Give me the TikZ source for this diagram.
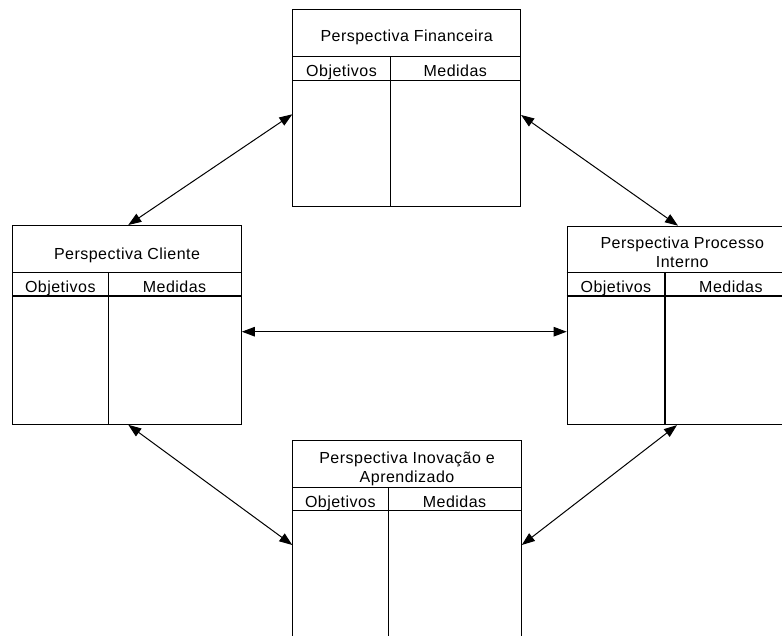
\documentclass[tikz,border=0pt]{standalone}
\usepackage{fontspec}
\setmainfont{Liberation Sans}[LetterSpace=3]
\usetikzlibrary{arrows.meta,calc}

\tikzset{
  panel/.style={draw=black, line width=1.1pt, anchor=north west, inner sep=0pt},
  rule/.style={draw=black, line width=1.1pt},
  label/.style={font=\fontsize{16}{19.4}\selectfont, inner sep=0pt, anchor=base, align=center},
  link/.style={draw=black, line width=1pt, {Triangle[length=13pt,width=9.5pt]}-{Triangle[length=13pt,width=9.5pt]}}
}

\begin{document}
\begin{tikzpicture}[x=1pt,y=-1pt]
\useasboundingbox (0,0) rectangle (782,635);
\clip (0,0) rectangle (782,635);

% Perspectiva Financeira
\node[panel, minimum width=227.7pt, minimum height=196.7pt] (fin) at (292.3,9.3) {};
\draw[rule] ($(fin.north west)+(0,47.4)$) -- ($(fin.north east)+(0,47.4)$);
\draw[rule] ($(fin.north west)+(0,71)$) -- ($(fin.north east)+(0,71)$);
\draw[rule] ($(fin.north west)+(98.4,47.4)$) -- ($(fin.south west)+(98.4,0)$);
\node[label] (finT) at ($(fin.north)+(0,32.4)$) {Perspectiva Financeira};
\node[label] (finO) at ($(fin.north west)+(49.2,67.4)$) {Objetivos};
\node[label] (finM) at ($(fin.north west)+(163,67.4)$) {Medidas};

% Perspectiva Cliente
\node[panel, minimum width=228.4pt, minimum height=198.7pt] (cli) at (12.3,225) {};
\draw[rule] ($(cli.north west)+(0,47.3)$) -- ($(cli.north east)+(0,47.3)$);
\draw[rule] ($(cli.north west)+(0,71)$) -- ($(cli.north east)+(0,71)$);
\draw[rule] ($(cli.north west)+(96,47.3)$) -- ($(cli.south west)+(96,0)$);
\node[label] (cliT) at ($(cli.north)+(0,34)$) {Perspectiva Cliente};
\node[label] (cliO) at ($(cli.north west)+(48,67.3)$) {Objetivos};
\node[label] (cliM) at ($(cli.north west)+(162.2,67.3)$) {Medidas};

% Perspectiva Processo Interno (runs past the right edge)
\node[panel, minimum width=230pt, minimum height=198.3pt] (pro) at (566.7,225.7) {};
\draw[rule] ($(pro.north west)+(0,47)$) -- ($(pro.north east)+(0,47)$);
\draw[rule] ($(pro.north west)+(0,70.3)$) -- ($(pro.north east)+(0,70.3)$);
\draw[rule] ($(pro.north west)+(98.3,47)$) -- ($(pro.south west)+(98.3,0)$);
\node[label] (proT) at ($(pro.north)+(0,42)$) {Perspectiva Processo\\Interno};
\node[label] (proO) at ($(pro.north west)+(49.2,66.6)$) {Objetivos};
\node[label] (proM) at ($(pro.north west)+(164.2,66.6)$) {Medidas};

% Perspectiva Inovação e Aprendizado (runs past the bottom edge)
\node[panel, minimum width=228.4pt, minimum height=210pt] (ino) at (292.3,440) {};
\draw[rule] ($(ino.north west)+(0,47.7)$) -- ($(ino.north east)+(0,47.7)$);
\draw[rule] ($(ino.north west)+(0,70.7)$) -- ($(ino.north east)+(0,70.7)$);
\draw[rule] ($(ino.north west)+(96,47.7)$) -- ($(ino.south west)+(96,0)$);
\node[label] (inoT) at ($(ino.north)+(0,42.7)$) {Perspectiva Inovação e\\Aprendizado};
\node[label] (inoO) at ($(ino.north west)+(48,67)$) {Objetivos};
\node[label] (inoM) at ($(ino.north west)+(162.2,67)$) {Medidas};

% Connections between the four perspectives
\draw[link] ($(fin.north west)+(0,105)$) -- ($(cli.north west)+(116,0)$);
\draw[link] ($(fin.north east)+(0,105.7)$) -- ($(pro.north west)+(111.3,0)$);
\draw[link] ($(cli.north east)+(0,106.7)$) -- ($(pro.north west)+(0,106)$);
\draw[link] ($(cli.south west)+(116,0)$) -- ($(ino.north west)+(0,105)$);
\draw[link] ($(pro.south west)+(110.3,0)$) -- ($(ino.north east)+(0,105)$);
\end{tikzpicture}
\end{document}
